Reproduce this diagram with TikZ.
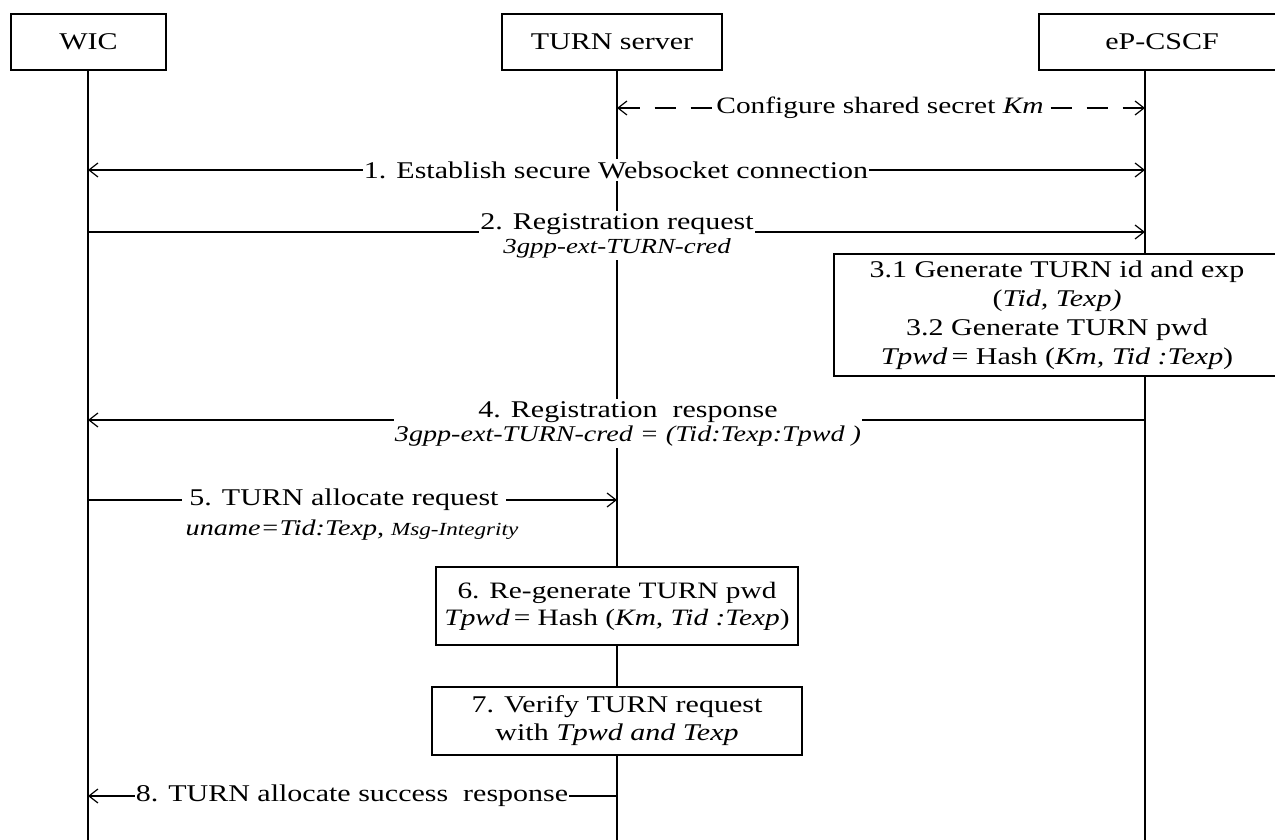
\documentclass[tikz,border=0pt]{standalone}
\usepackage{fontspec}
\setmainfont{Liberation Serif}[FakeStretch=1.25]
\usetikzlibrary{arrows.meta}
\newcommand\subline[1]{{\fontsize{21.5}{23}\selectfont\itshape #1}}
\begin{document}
\begin{tikzpicture}[x=1pt,y=-1pt,
  line width=1.2pt,
  barb/.tip={Straight Barb[length=9pt,width=14pt]},
  hdr/.style={draw, fill=white, minimum height=56pt, inner sep=0pt, font=\fontsize{24}{28}\selectfont},
  msg/.style={fill=white, inner xsep=1pt, inner ysep=2pt, align=center, font=\fontsize{24}{26}\selectfont},
  act/.style={draw, fill=white, align=center, inner sep=0pt, font=\fontsize{24}{29}\selectfont},
  life/.style={line width=1.2pt},
  cfg/.style={dash pattern=on 21pt off 15pt}
  ]
\path[use as bounding box] (0,0) rectangle (1275,840);
\clip (0,0) rectangle (1275,840);

% participants
\node[hdr, minimum width=155pt] (wic) at (88.5,42) {WIC};
\node[hdr, minimum width=220pt] (turn) at (612,42) {TURN server};
\node[hdr, minimum width=246pt] (pcscf) at (1162,42) {eP-CSCF};

\coordinate (wicEnd) at (88,850);
\coordinate (turnEnd) at (617,850);
\coordinate (pcscfEnd) at (1145,850);
\draw[life] (wic.south -| wicEnd) -- (wicEnd);
\draw[life] (turn.south -| turnEnd) -- (turnEnd);
\draw[life] (pcscf.south -| pcscfEnd) -- (pcscfEnd);

% lifeline anchor points
\coordinate (tK) at (617,108);  \coordinate (pK) at (1145,108);
\coordinate (w1) at (88,170);   \coordinate (p1) at (1145,170);
\coordinate (w2) at (88,232);   \coordinate (p2) at (1145,232);
\coordinate (w4) at (88,420);   \coordinate (p4) at (1145,420);
\coordinate (w5) at (88,500);   \coordinate (t5) at (617,500);
\coordinate (w8) at (88,796);   \coordinate (t8) at (617,796);

% connectors
\draw[cfg, barb-barb] (tK) -- (pK);
\draw[barb-barb] (w1) -- (p1);
\draw[-barb] (w2) -- (p2);
\draw[-barb] (p4) -- (w4);
\draw[-barb] (w5) -- (t5);
\draw[-barb] (t8) -- (w8);

% labels
\node[msg, font=\fontsize{23.5}{26}\selectfont] (lK) at (880,108) {Configure shared secret \textit{Km}};
\node[msg] (l1) at (616,170) {1. Establish secure Websocket connection};
\node[msg, anchor=base] (l2) at (617,253) {2. Registration request\\[-2pt]\subline{3gpp-ext-TURN-cred}};
\node[msg, anchor=base] (l4) at (628,441) {4. Registration\ \ response\\[-2pt]{\fontsize{22.5}{24}\selectfont\itshape 3gpp-ext-TURN-cred = (Tid:Texp:Tpwd )}};
\node[msg, inner xsep=7pt] (l5) at (344,500) {5. TURN allocate request};
\node[msg, fill=none] (l5b) at (352,530) {{\fontsize{22.5}{24}\selectfont\itshape uname=Tid:Texp, {\fontsize{18.5}{20}\selectfont Msg-Integrity}}};
\node[msg] (l8) at (352,796) {8. TURN allocate success\ \ response};

% action boxes
\node[act, minimum width=446pt, minimum height=122pt] (b3) at (1057,315)
  {3.1 Generate TURN id and exp\\ (\textit{Tid, Texp)}\\ 3.2 Generate TURN pwd\\ \textit{Tpwd}\,= Hash (\textit{Km, Tid :Texp})};
\node[act, minimum width=362pt, minimum height=78pt, font=\fontsize{23.5}{27}\selectfont] (b6) at (617,606)
  {6. Re-generate TURN pwd\\ \textit{Tpwd}\,= Hash (\textit{Km, Tid :Texp})};
\node[act, minimum width=370pt, minimum height=68pt, font=\fontsize{24}{28}\selectfont] (b7) at (617,721)
  {7. Verify TURN request\\ with \textit{Tpwd and Texp}};
\end{tikzpicture}
\end{document}
